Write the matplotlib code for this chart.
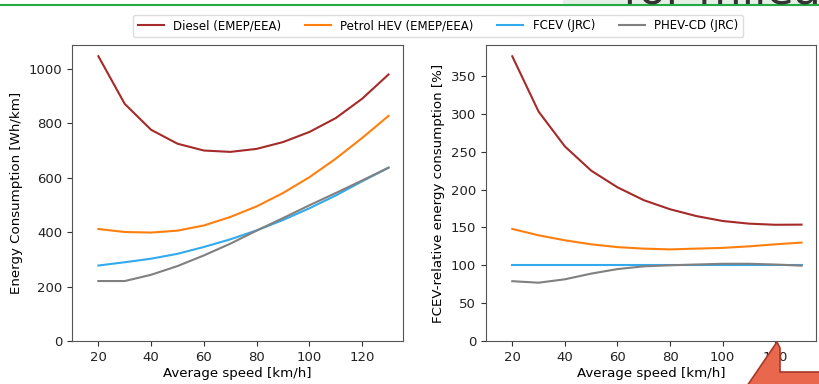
import matplotlib
matplotlib.use('Agg')
import matplotlib.pyplot as plt
from matplotlib.patches import Polygon, Rectangle
from matplotlib.lines import Line2D

# average speed [km/h]
speed = [20, 30, 40, 50, 60, 70, 80, 90, 100, 110, 120, 130]

# energy consumption [Wh/km]
diesel_abs = [1045, 870, 775, 724, 699, 694, 705, 730, 767, 818, 889, 978]
petrol_abs = [411, 400, 398, 405, 424, 455, 494, 543, 601, 669, 745, 826]
fcev_abs = [277, 289, 302, 320, 345, 373, 406, 444, 487, 534, 586, 636]
phev_abs = [220, 220, 243, 275, 314, 357, 405, 451, 498, 543, 589, 636]

# FCEV-relative energy consumption [%]
diesel_rel = [376, 303, 257, 225, 203, 186, 174, 165, 158.5, 155, 153.5, 153.7]
petrol_rel = [148, 139.6, 133, 127.7, 124, 122, 121, 122, 123, 125, 127.7, 130]
fcev_rel = [100, 100, 100, 100, 100, 100, 100, 100, 100, 100, 100, 100]
phev_rel = [79, 77, 81.5, 89, 95, 98.6, 100, 101, 102, 102, 101, 99.5]

labels = ['Diesel (EMEP/EEA)', 'Petrol HEV (EMEP/EEA)', 'FCEV (JRC)', 'PHEV-CD (JRC)']
colors = ['#a52a2a', '#ff7f0e', '#33aaee', '#808080']

W, H = 819, 384
fig = plt.figure(figsize=(W / 100, H / 100), dpi=100)
fig.patch.set_facecolor('white')

def px(x0, y0, x1, y1):
    # pixel box (top-left origin) -> figure fraction rect
    return [x0 / W, 1 - y1 / H, (x1 - x0) / W, (y1 - y0) / H]

ax1 = fig.add_axes(px(72, 45, 403, 341))
ax2 = fig.add_axes(px(486, 45, 816, 341))

for s, c, lab in zip([diesel_abs, petrol_abs, fcev_abs, phev_abs], colors, labels):
    ax1.plot(speed, s, color=c, lw=1.5, label=lab)
for s, c in zip([diesel_rel, petrol_rel, fcev_rel, phev_rel], colors):
    ax2.plot(speed, s, color=c, lw=1.5)

ax1.set_ylabel('Energy Consumption [Wh/km]', fontsize=9.6)
ax2.set_ylabel('FCEV-relative energy consumption [%]', fontsize=9.6)
for ax in (ax1, ax2):
    ax.set_xlim(10, 135.5)
    ax.set_ylim(bottom=0)
    ax.set_xticks([20, 40, 60, 80, 100, 120])
    ax.set_xlabel('Average speed [km/h]', fontsize=9.6, labelpad=2)
    ax.tick_params(labelsize=9.5, color='#333333', labelcolor='#222222')
    for sp in ax.spines.values():
        sp.set_color('#555555')
ax2.set_yticks([0, 50, 100, 150, 200, 250, 300, 350])

handles = [Line2D([], [], color=c, lw=1.5) for c in colors]
fig.legend(handles, labels, loc='center', bbox_to_anchor=(438 / W, 1 - 26 / H),
           ncol=4, fontsize=8.5, frameon=True, framealpha=1, edgecolor='#dddddd',
           handlelength=2.2, columnspacing=2.0, borderpad=0.4)

# slide decorations around the screenshot
fig.add_artist(Rectangle((563 / W, 1 - 5 / H), 1 - 563 / W, 5 / H,
                         transform=fig.transFigure, color='#e6efe6', zorder=0))
fig.text(623 / W, 1 - 4 / H, 'for mileage', fontsize=32, color='#333333',
         va='baseline', ha='left')
fig.add_artist(Line2D([0, 1], [1 - 5 / H, 1 - 5 / H], transform=fig.transFigure,
                      color='#22aa44', lw=1.5))
arrow = [(777, 342), (747, 386), (822, 386), (822, 372), (780, 372), (780, 348)]
fig.add_artist(Polygon([(x / W, 1 - y / H) for x, y in arrow], closed=True,
                       transform=fig.transFigure, facecolor='#e8674d',
                       edgecolor='#a8382a', lw=1.2))

fig.savefig('out.png', dpi=100, facecolor='white')
